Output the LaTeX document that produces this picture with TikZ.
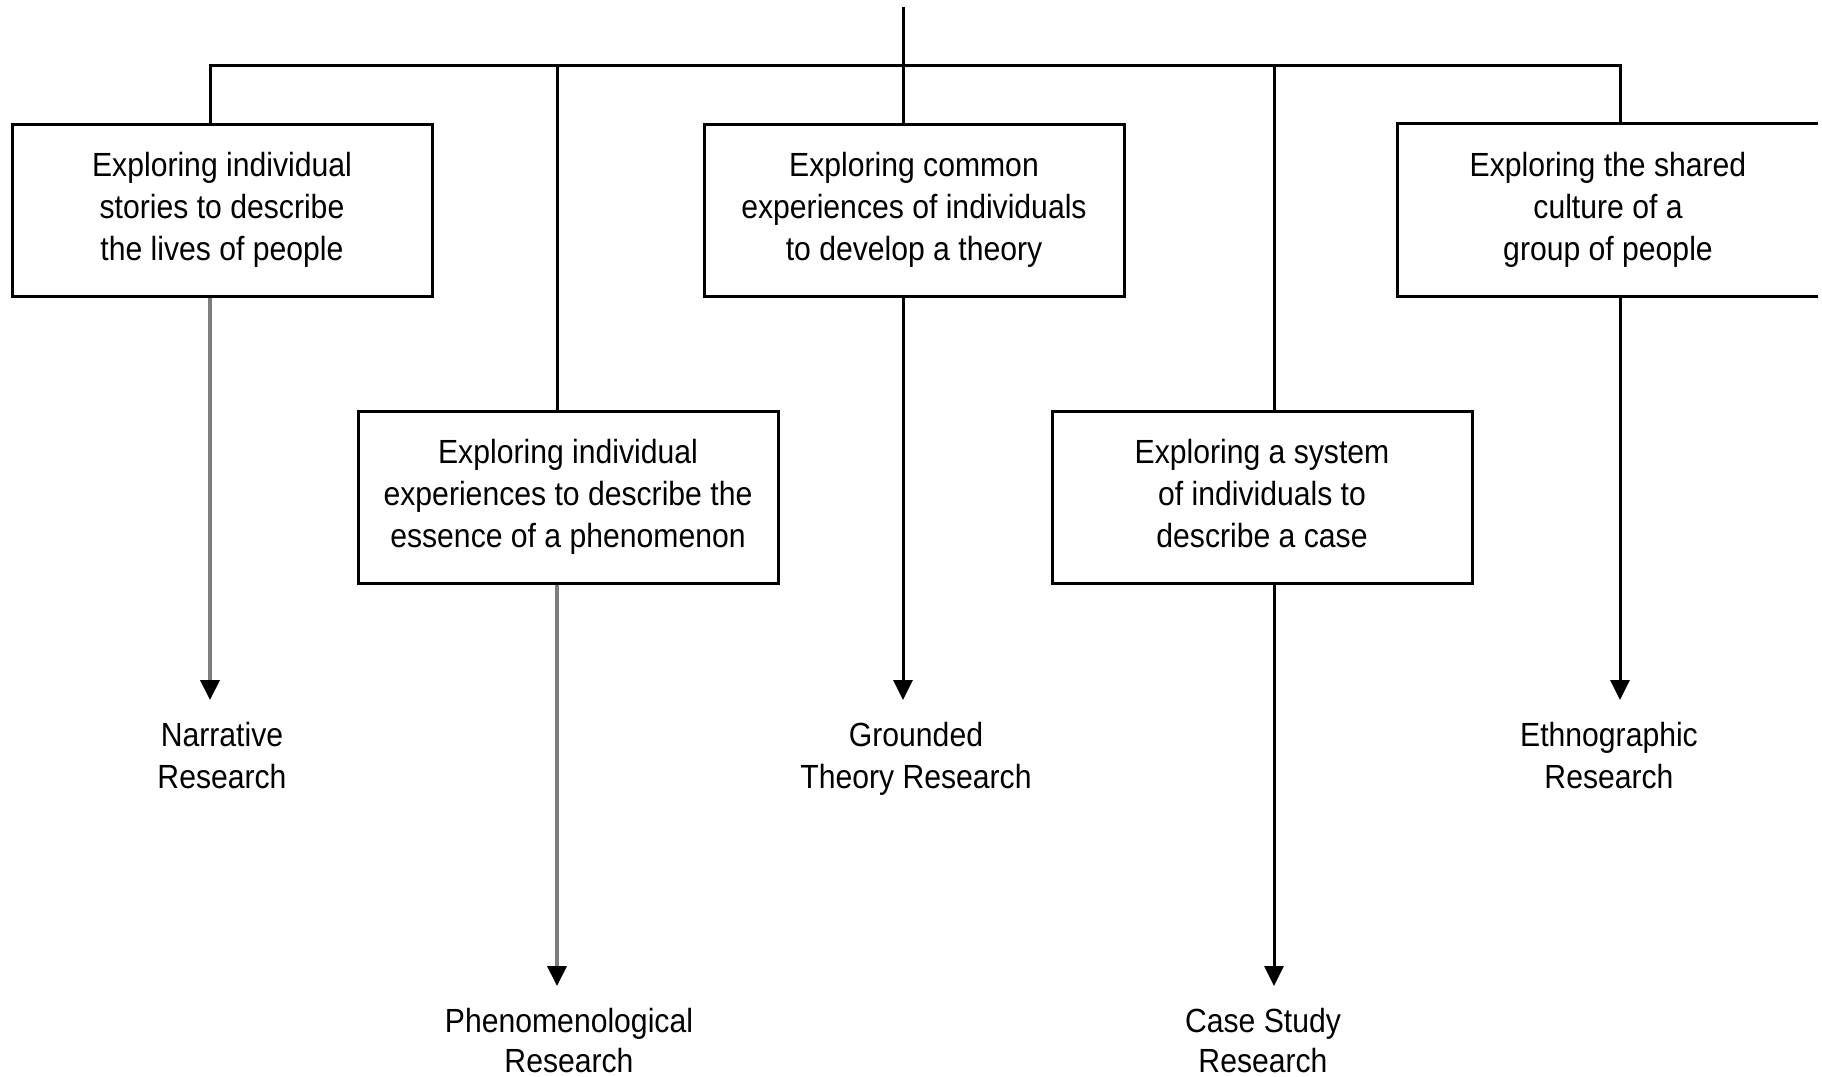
\documentclass[tikz,border=0pt]{standalone}
\usepackage{fontspec}
\setmainfont{Liberation Sans}[FakeStretch=0.9]
\usetikzlibrary{arrows.meta}
\definecolor{leadgrey}{RGB}{125,125,125}
\begin{document}
\begin{tikzpicture}[x=0.5pt,y=-0.5pt,
  every node/.style={font=\fontsize{16.75}{20.9}\selectfont, align=center},
  boxbase/.style={minimum width=210pt, minimum height=86pt, inner sep=0pt,
    execute at end node={\vphantom{g}}},
  box/.style={boxbase, draw=black, line width=1.5pt},
  openbox/.style={boxbase},
  outcome/.style={anchor=north, inner sep=0pt},
  outcomelow/.style={outcome, font=\fontsize{16.75}{19.8}\selectfont},
  wire/.style={line width=1.5pt, black},
  lead/.style={line width=1.5pt, black, -{Triangle[width=9.5pt,length=10pt,color=black]}, shorten >=11pt},
  leadlight/.style={lead, line width=2pt, draw=leadgrey}]
\useasboundingbox (0,0) rectangle (1822,1077);

% bus coordinates
\coordinate (src) at (903,7);
\coordinate (bus) at (903,65);
\coordinate (b1) at (210,65);
\coordinate (b2) at (557,65);
\coordinate (b3) at (903,65);
\coordinate (b4) at (1274,65);
\coordinate (b5) at (1620,65);

% description boxes
\node[box] (box1) at (222,210) {Exploring individual\\stories to describe\\the lives of people};
\node[box] (box2) at (568,497) {Exploring individual\\experiences to describe the\\essence of a phenomenon};
\node[box] (box3) at (914,210) {Exploring common\\experiences of individuals\\to develop a theory};
\node[box] (box4) at (1262,497) {Exploring a system\\of individuals to\\describe a case};
\node[openbox] (box5) at (1608,210) {Exploring the shared\\culture of a\\group of people};
\draw[wire] (box5.north east) -- (box5.north west) -- (box5.south west) -- (box5.south east);

% research approaches
\node[outcome] (lab1) at (222,722) {Narrative\\Research};
\node[outcomelow] (lab2) at (569,1008) {Phenomenological\\Research};
\node[outcome] (lab3) at (916,722) {Grounded\\Theory Research};
\node[outcomelow] (lab4) at (1263,1008) {Case Study\\Research};
\node[outcome] (lab5) at (1609,722) {Ethnographic\\Research};

% tree wiring
\draw[wire] (src) -- (bus);
\draw[wire] (b1 |- box1.north) -- (b1) -- (b5) -- (b5 |- box5.north);
\draw[wire] (b2) -- (b2 |- box2.north);
\draw[wire] (b3) -- (b3 |- box3.north);
\draw[wire] (b4) -- (b4 |- box4.north);

% arrows to approaches
\draw[leadlight] (b1 |- box1.south) -- (b1 |- lab1.north);
\draw[leadlight] (b2 |- box2.south) -- (b2 |- lab2.north);
\draw[lead] (b3 |- box3.south) -- (b3 |- lab3.north);
\draw[lead] (b4 |- box4.south) -- (b4 |- lab4.north);
\draw[lead] (b5 |- box5.south) -- (b5 |- lab5.north);
\end{tikzpicture}
\end{document}
